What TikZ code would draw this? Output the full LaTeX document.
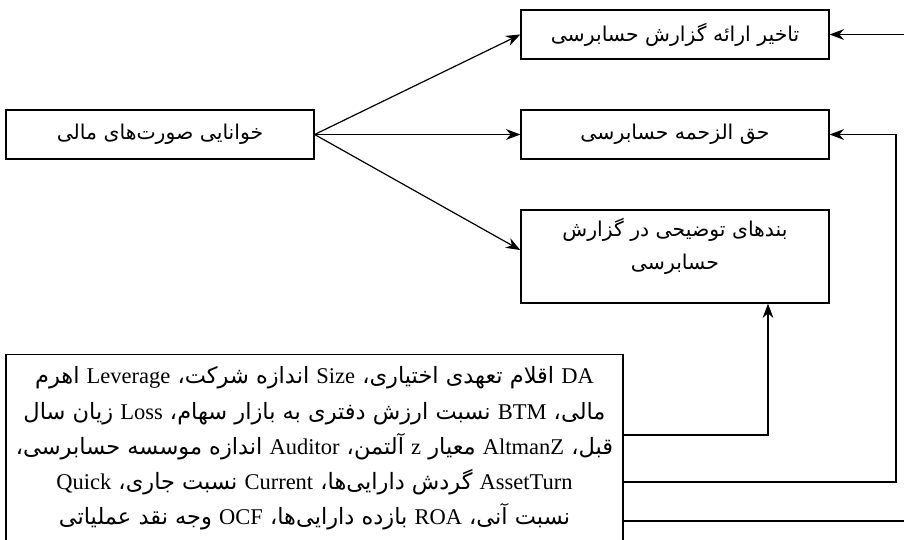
\documentclass[tikz,border=0pt]{standalone}
\usepackage{fontspec}
\usetikzlibrary{arrows.meta}
\TeXXeTstate=1
\newfontfamily\arabicfont[Script=Arabic]{DejaVu Sans}
\newfontfamily\latinfont[Scale=1.0]{Liberation Serif}
\newcommand{\ltn}[1]{{\latinfont\beginL #1\endL}}
\tikzset{
    box/.style={draw, line width=0.85pt, minimum width=7.7cm, minimum height=1.225cm,
        align=center, font=\arabicfont\fontsize{14.5}{24}\selectfont},
    txt/.style={align=center, inner sep=0pt, font=\arabicfont\fontsize{16}{25}\selectfont},
    arr/.style={-{Stealth[length=0.36cm,width=0.27cm]}, line width=0.85pt},
    line/.style={-, line width=0.85pt}
}
\begin{document}
\begin{tikzpicture}[x=0.025cm, y=-0.025cm]
    \useasboundingbox (0,0) rectangle (904,540);
    \clip (0,0) rectangle (904,540);

    \node[box] (A) at (160,134.5) {\beginR خوانایی صورت^^^^200cهای مالی\endR};

    \node[box] (B) at (675,34.5) {\beginR تاخیر ارائه گزارش حسابرسی\endR};
    \node[box] (C) at (675,134.5) {\beginR حق الزحمه حسابرسی\endR};
    \node[box, minimum height=2.325cm] (D) at (675,256.5) {};
    \node[txt, font=\arabicfont\fontsize{14.5}{23.5}\selectfont] (D1) at (675,246.5) {\beginR بندهای توضیحی در گزارش\endR\\\beginR حسابرسی\endR};

    \node[box, minimum width=15.425cm, minimum height=5cm, anchor=north] (E) at (314.5,354) {};
    \node[txt] (F) at (314.5,448.5) {%
        \beginR \ltn{DA} اقلام تعهدی اختیاری، \ltn{Size} اندازه شرکت، \ltn{Leverage} اهرم\endR\\
        \beginR مالی، \ltn{BTM} نسبت ارزش دفتری به بازار سهام، \ltn{Loss} زیان سال\endR\\
        \beginR قبل، \ltn{AltmanZ} معیار \ltn{z} آلتمن، \ltn{Auditor} اندازه موسسه حسابرسی،\endR\\
        \beginR \ltn{AssetTurn} گردش دارایی^^^^200cها، \ltn{Current} نسبت جاری، \ltn{Quick}\endR\\
        \beginR نسبت آنی، \ltn{ROA} بازده دارایی^^^^200cها، \ltn{OCF} وجه نقد عملیاتی\endR};

    \coordinate (G) at (768,435);
    \coordinate (H) at (896,482);
    \coordinate (I) at (904,521);
    \coordinate (J) at (904,34.5);

    \path [arr] (A.east) edge node {} (B.west);
    \path [arr] (A.east) edge node {} (C.west);
    \path [arr] (A.east) edge node {} ([yshift=0.16cm]D.west);

    \draw [arr] (E.east |- G) -- (G) -- (G |- D.south);
    \draw [arr] (E.east |- H) -- (H) |- (C.east);
    \draw [line] (E.east |- I) -- (I);
    \path [arr] (J) edge node {} (B.east);
\end{tikzpicture}
\end{document}
